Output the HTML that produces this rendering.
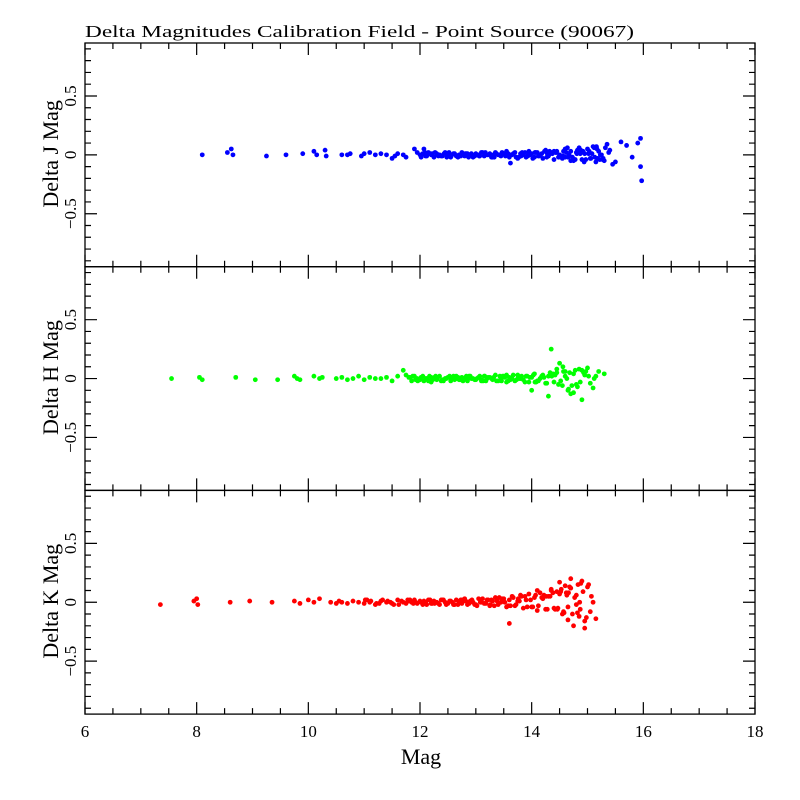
<!DOCTYPE html>
<html><head><meta charset="utf-8"><style>
html,body{margin:0;padding:0;background:#fff}
svg{display:block}
text{font-family:"Liberation Serif",serif;fill:#000}
</style></head><body>
<svg id="chart" width="800" height="800" viewBox="0 0 800 800">
<text x="85" y="37" font-size="17" textLength="549" lengthAdjust="spacingAndGlyphs">Delta Magnitudes Calibration Field - Point Source (90067)</text>
<text x="421" y="764" font-size="22" text-anchor="middle">Mag</text>
</svg>
<script>
const xTicks=[6,8,10,12,14,16,18];
const yTicks=[-0.5,0,0.5];
const yTickLabels=["\u22120.5","0","0.5"];
const panelNames=["J","H","K"];
const panelColors=["#0000ff","#00ff00","#ff0000"];

const jMag=[8.1,8.55,8.62,8.65,9.25,9.6,9.9,10.1,10.15,10.3,10.32,10.6,10.7,10.75,10.95,11.0,11.1,11.2,11.3,11.4,11.5,11.55,11.6,11.7,11.75,11.9,11.95,12.0,12.05,12.1,12.15,12.2,12.25,12.3,12.35,12.4,12.45,12.5,12.55,12.6,12.65,12.7,12.75,12.8,12.85,12.9,12.95,13.0,13.05,13.1,13.15,13.2,13.25,13.3,13.35,13.4,13.45,13.5,13.55,13.6,13.65,13.7,13.75,13.8,13.85,13.9,13.95,14.0,14.05,14.1,14.15,14.2,14.25,14.3,14.35,14.4,14.45,14.5,14.55,14.6,14.65,14.7,14.75,14.8,14.85,14.9,14.95,15.0,15.05,15.1,15.15,15.2,15.25,15.3,15.35,15.4,15.5,15.6,15.7,15.8,15.9,15.95,15.95,15.97,12.02,12.18,12.33,12.52,12.68,12.83,12.98,13.12,13.28,13.42,13.58,13.72,13.88,14.02,14.18,14.32,14.48,14.62,14.78,14.92,15.08,15.22,15.38,14.28,14.52,14.7,14.88,15.02,15.18,15.32,13.62,13.95,14.12,14.4,14.6,14.82,15.12,15.28,15.45,
12.07,12.12,12.22,12.27,12.38,12.43,12.48,12.57,12.62,12.73,12.78,12.87,12.92,13.03,13.07,13.17,13.22,13.33,13.37,13.47,13.53,13.63,13.67,13.77,13.83,13.93,13.97,14.07,14.13,14.23,14.27,14.37,14.43,14.53,14.57,14.67,14.73,14.83,14.87,14.97,15.03,15.13,15.17,15.23,15.27,12.09,12.31,12.56,12.81,13.06,13.31,13.56,13.81,14.06,14.31,14.56,14.81,15.06,14.44,14.64,14.94,15.16];
const jDelta=[0.0,0.02,0.05,0.0,-0.01,0.0,0.01,0.03,0.0,0.04,-0.01,0.0,0.0,0.01,-0.01,0.01,0.02,0.0,0.01,0.0,-0.03,-0.01,0.01,0.0,-0.02,0.05,0.02,0.0,0.01,-0.01,0.02,0.0,-0.02,0.01,0.0,-0.01,0.02,0.0,-0.02,0.01,-0.01,0.0,0.02,-0.01,0.01,0.0,-0.02,0.01,0.0,0.02,-0.01,0.0,0.01,-0.02,0.02,0.0,-0.01,0.01,0.03,-0.02,0.0,0.02,-0.03,0.01,0.0,-0.02,0.03,0.01,-0.02,0.02,0.0,-0.03,0.04,-0.01,0.02,-0.04,0.03,0.0,-0.03,0.05,-0.02,0.03,-0.05,0.02,0.06,-0.04,0.01,0.05,-0.03,0.07,-0.06,0.03,0.0,-0.05,0.09,0.04,-0.06,0.11,0.08,-0.02,0.1,0.14,-0.1,-0.22,-0.02,0.01,-0.01,0.02,-0.02,0.01,-0.01,0.02,-0.02,0.0,0.01,-0.02,0.02,-0.03,0.01,0.03,-0.02,0.02,-0.04,0.03,0.01,-0.04,0.02,0.01,-0.02,-0.05,0.04,0.01,-0.03,0.06,-0.07,0.02,-0.01,0.03,-0.02,0.04,0.06,-0.03,-0.08,0.05,
-0.01,0.01,0.02,-0.01,0.01,-0.02,0.0,0.01,-0.01,0.0,-0.02,0.01,0.0,-0.01,0.02,0.0,-0.02,0.01,0.02,-0.01,0.0,0.01,-0.02,0.02,-0.01,0.0,0.02,-0.01,0.03,-0.02,0.01,0.02,-0.02,0.03,0.0,-0.02,0.04,0.01,-0.04,0.03,-0.02,0.05,0.0,-0.04,0.02,0.0,-0.01,0.01,-0.01,0.0,0.01,-0.01,0.02,0.0,-0.01,0.01,-0.03,0.02,0.06,-0.06,0.07,-0.02];

const hMag=[7.55,8.05,8.1,8.7,9.05,9.45,9.75,9.8,9.85,10.1,10.2,10.25,10.5,10.6,10.7,10.8,10.9,11.0,11.1,11.2,11.3,11.4,11.5,11.6,11.7,11.75,11.8,11.85,11.9,11.95,12.0,12.05,12.1,12.15,12.2,12.25,12.3,12.35,12.4,12.45,12.5,12.55,12.6,12.65,12.7,12.75,12.8,12.85,12.9,12.95,13.0,13.05,13.1,13.15,13.2,13.25,13.3,13.35,13.4,13.45,13.5,13.55,13.6,13.65,13.7,13.75,13.8,13.85,13.9,13.95,14.0,14.05,14.1,14.15,14.2,14.25,14.3,14.35,14.4,14.45,14.5,14.55,14.6,14.65,14.7,14.75,14.8,14.85,14.9,14.95,15.0,15.05,15.1,15.2,15.3,11.82,11.98,12.12,12.28,12.42,12.58,12.72,12.88,13.02,13.18,13.32,13.48,13.62,13.78,13.92,14.08,14.22,14.38,14.52,14.68,14.82,14.97,15.15,12.2,12.65,13.1,13.55,14.0,14.3,14.45,14.6,14.75,14.9,
11.87,11.92,12.02,12.07,12.17,12.23,12.32,12.38,12.47,12.53,12.62,12.68,12.77,12.83,12.92,12.98,13.07,13.13,13.22,13.28,13.37,13.43,13.52,13.58,13.67,13.73,13.82,13.88,13.97,14.03,14.12,14.18,14.27,14.33,14.42,14.48,14.57,14.63,14.72,14.78,14.87,14.93,15.02,15.12,11.96,12.26,12.56,12.86,13.16,13.46,13.76,14.06,14.36,14.56,14.66];
const hDelta=[0.0,0.01,-0.01,0.01,-0.01,-0.01,0.02,0.0,-0.01,0.02,0.0,0.01,0.0,0.01,-0.01,0.0,0.02,-0.01,0.01,0.0,0.0,0.01,-0.02,0.02,0.07,0.03,0.01,-0.02,0.02,0.0,-0.01,0.02,0.0,-0.02,0.01,0.0,-0.01,0.02,-0.01,0.0,0.01,-0.02,0.02,0.0,-0.01,0.01,0.0,-0.02,0.02,0.0,-0.01,0.01,-0.02,0.02,0.0,0.01,-0.01,0.03,-0.02,0.0,0.02,-0.03,0.01,0.0,-0.02,0.03,0.0,-0.01,0.02,-0.03,0.01,0.04,-0.02,0.0,0.03,-0.04,0.02,0.25,-0.03,0.05,0.13,-0.06,0.02,-0.1,-0.13,0.04,-0.05,0.08,-0.18,0.03,0.09,-0.04,-0.08,0.06,0.04,0.01,-0.01,0.0,0.02,-0.02,0.01,-0.01,0.02,0.0,-0.02,0.01,0.02,-0.01,0.0,0.02,-0.03,0.01,0.04,-0.02,0.05,-0.07,0.06,0.02,-0.03,0.02,-0.01,0.03,-0.1,-0.15,0.08,0.06,-0.12,0.07,
0.02,-0.01,0.01,-0.02,0.02,-0.01,0.01,-0.02,0.0,0.02,-0.01,0.01,-0.02,0.02,0.0,-0.01,0.02,-0.02,0.01,0.0,-0.02,0.02,0.01,-0.02,0.03,-0.01,0.02,-0.03,0.01,0.03,-0.02,0.02,-0.04,0.05,0.03,-0.05,0.06,0.0,-0.06,0.07,-0.03,0.05,0.02,0.0,-0.02,0.01,-0.01,0.0,0.02,-0.02,0.01,-0.03,0.02,0.1,-0.09];

const kMag=[7.35,7.95,8.0,8.02,8.6,8.95,9.35,9.75,9.85,10.0,10.1,10.2,10.4,10.5,10.55,10.6,10.7,10.8,10.9,11.0,11.05,11.1,11.2,11.3,11.4,11.5,11.6,11.7,11.75,11.8,11.85,11.9,11.95,12.0,12.05,12.1,12.15,12.2,12.25,12.3,12.35,12.4,12.45,12.5,12.55,12.6,12.65,12.7,12.75,12.8,12.85,12.9,12.95,13.0,13.05,13.1,13.15,13.2,13.25,13.3,13.35,13.4,13.45,13.5,13.55,13.6,13.65,13.7,13.75,13.8,13.85,13.9,13.95,14.0,14.05,14.1,14.15,14.2,14.25,14.3,14.35,14.4,14.45,14.5,14.55,14.6,14.65,14.7,14.75,14.8,14.85,14.9,14.95,15.0,15.05,15.1,15.15,11.02,11.22,11.42,11.62,11.82,12.02,12.22,12.42,12.62,12.82,13.02,13.22,13.42,13.62,13.82,14.02,14.22,14.42,14.62,14.82,15.02,13.6,14.1,14.35,14.5,14.58,14.7,14.8,14.88,14.95,14.52,14.65,
11.12,11.27,11.33,11.47,11.53,11.67,11.78,11.88,11.92,12.07,12.12,12.18,12.28,12.33,12.38,12.47,12.53,12.58,12.68,12.73,12.78,12.88,12.93,12.98,13.08,13.12,13.18,13.28,13.33,13.38,13.47,13.52,13.58,13.67,13.72,13.78,13.88,13.92,13.98,14.07,14.12,14.18,14.28,14.33,14.38,14.47,14.53,14.57,14.63,14.68,14.73,14.77,14.83,14.87,14.92,14.98,15.07,12.26,12.76,13.26,13.76,14.26,14.46,14.66,14.86];
const kDelta=[-0.02,0.01,0.03,-0.02,0.0,0.01,0.0,0.01,-0.01,0.02,0.0,0.03,0.0,-0.01,0.01,0.0,-0.01,0.01,0.0,-0.01,0.02,0.0,-0.02,0.01,0.0,-0.01,0.02,0.0,-0.01,0.01,0.0,0.02,-0.01,0.01,-0.02,0.0,0.02,-0.01,0.01,0.0,-0.02,0.02,0.0,-0.01,0.01,-0.02,0.02,0.0,-0.01,0.03,-0.02,0.01,0.0,-0.02,0.03,0.0,-0.01,0.02,-0.03,0.01,0.04,-0.02,0.0,0.03,-0.04,0.02,0.05,-0.03,0.01,0.06,-0.05,0.02,0.07,-0.04,0.04,-0.07,0.08,0.03,-0.06,0.05,0.1,-0.05,0.09,0.17,-0.1,0.14,-0.15,0.12,-0.2,0.06,-0.12,0.18,-0.22,0.13,-0.08,0.0,-0.14,0.02,-0.01,0.01,-0.02,0.02,0.0,-0.01,0.02,-0.02,0.01,-0.03,0.02,0.04,-0.03,0.05,-0.04,0.06,-0.06,0.08,-0.09,0.15,-0.18,0.1,0.11,0.07,-0.09,0.2,-0.02,0.16,-0.16,0.09,-0.04,
0.01,-0.01,0.02,0.0,-0.02,0.01,0.02,-0.01,0.0,0.01,-0.02,0.02,0.0,-0.01,0.02,-0.02,0.01,0.0,-0.02,0.02,0.01,-0.01,0.02,-0.02,0.0,0.03,-0.01,0.02,-0.03,0.01,0.03,0.0,-0.03,0.04,-0.02,0.01,0.05,-0.04,0.02,0.06,-0.03,0.04,-0.06,0.05,0.08,-0.05,0.11,-0.08,0.06,0.13,-0.1,0.04,0.15,-0.06,0.09,-0.13,0.05,-0.01,0.02,-0.02,0.03,0.05,-0.06,0.08,0.0];

const magSeries=[jMag,hMag,kMag];
const deltaSeries=[jDelta,hDelta,kDelta];

const svg=document.getElementById('chart');
const NS='http://www.w3.org/2000/svg';
const X0=85,X1=755,XMIN=6,XMAX=18;
const TOP=43,PH=223.7,YR=0.95;
function xs(m){return X0+(m-XMIN)*(X1-X0)/(XMAX-XMIN);}
function ys(p,d){const t=TOP+p*PH;return t+PH/2-d*(PH/2)/YR;}
function mk(tag,attrs){const e=document.createElementNS(NS,tag);for(const k in attrs)e.setAttribute(k,attrs[k]);svg.appendChild(e);return e;}

for(let p=0;p<3;p++){
  const t=TOP+p*PH,b=t+PH;
  const frame=mk('rect',{x:X0,y:t,width:X1-X0,height:PH,fill:'none',stroke:'#000','stroke-width':1.3});
  
  
  let d='';
  for(let v=XMIN;v<=XMAX+1e-6;v+=0.5){
    const x=xs(v),L=(Math.abs(v-Math.round(v/2)*2)<1e-6)?12:6;
    d+=`M${x},${b}v${-L}M${x},${t}v${L}`;
  }
  for(let i=-9;i<=9;i++){
    const v=i/10,y=ys(p,v),L=(i%5===0)?12:6;
    d+=`M${X0},${y}h${L}M${X1},${y}h${-L}`;
  }
  const ticks=mk('path',{d:d,stroke:'#000','stroke-width':1.2,fill:'none'});
  
  
  yTicks.forEach((v,i)=>{
    const y=ys(p,v);
    const tx=mk('text',{x:0,y:0,'font-size':17,'text-anchor':'middle',transform:`translate(76,${y}) rotate(-90)`});
    tx.textContent=yTickLabels[i];
    
    
  });
  const yl=mk('text',{x:0,y:0,'font-size':22,'text-anchor':'middle',transform:`translate(58,${t+PH/2-1}) rotate(-90)`});
  yl.textContent='Delta '+panelNames[p]+' Mag';
  
  
  const g=mk('g',{fill:panelColors[p]});
  
  
  const ms=magSeries[p],ds=deltaSeries[p];
  const n=Math.min(ms.length,ds.length);
  for(let i=0;i<n;i++){
    const c=document.createElementNS(NS,'circle');
    c.setAttribute('cx',xs(ms[i]));c.setAttribute('cy',ys(p,ds[i]));c.setAttribute('r',2.4);
    
    
    g.appendChild(c);
  }
}
xTicks.forEach(v=>{
  const tx=mk('text',{x:xs(v),y:737,'font-size':17,'text-anchor':'middle'});
  tx.textContent=v;
  
  
});
</script>
</body></html>
